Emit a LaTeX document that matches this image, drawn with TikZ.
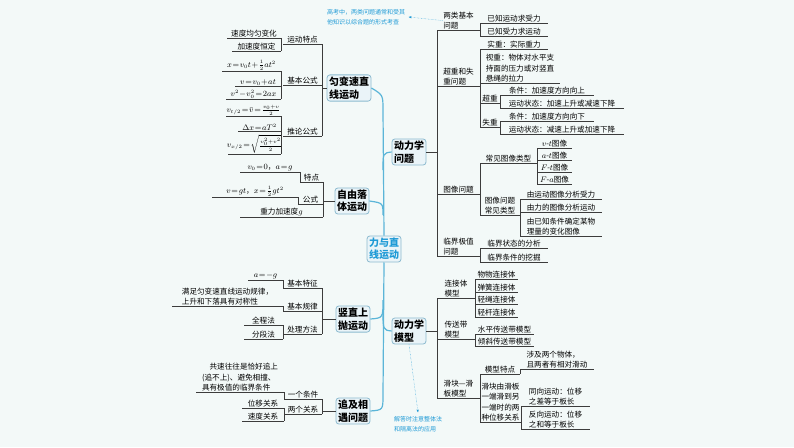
\documentclass[tikz,border=0pt]{standalone}
\usepackage{amsmath}
\usepackage[no-math]{fontspec}
\setmainfont{Noto Sans CJK SC}
\usetikzlibrary{arrows.meta}
\definecolor{bgc}{HTML}{F3F9F8}
\definecolor{linec}{HTML}{3C3C3C}
\definecolor{boxc}{HTML}{EAF4F8}
\definecolor{boxb}{HTML}{8DBBD0}
\definecolor{spinec}{HTML}{5BB5D8}
\definecolor{notec}{HTML}{1E9AD6}
\medmuskip=1mu
\thickmuskip=1.5mu
\tikzset{
  leaf/.style={inner sep=0.6pt, font=\fontsize{7.6}{10.3}\selectfont, align=left},
  topic/.style={draw=boxb, fill=boxc, rounded corners=3pt, line width=0.8pt, align=left, inner sep=2pt, font=\fontsize{10}{12.5}\selectfont\bfseries},
  note/.style={text=notec, align=left, font=\fontsize{6}{10.5}\selectfont},
  tree/.style={draw=linec, line width=0.6pt},
  spine/.style={draw=spinec, line width=1.2pt}
}
% leaf text above an underline
\newcommand{\lf}[5]{\node[leaf, anchor=south] (#1) at ({(#2+#3)/2},#4) {#5};
  \draw[tree] (#2,#4) -- (#3,#4);}
\newcommand{\brk}[3]{\draw[tree, rounded corners=2pt] (#1,#2) -- (#1,#3);}
\begin{document}
\begin{tikzpicture}[x=1pt,y=-1pt]
\fill[bgc] (0,0) rectangle (794,447);
\useasboundingbox (0,0) rectangle (794,447);

% main topics
\node[topic, text=notec] (root) at (384,249) {力与直\\线运动};
\node[topic] (uniform) at (349,88) {匀变速直\\线运动};
\node[topic] (freefall) at (352,201) {自由落\\体运动};
\node[topic] (upthrow) at (353,319) {竖直上\\抛运动};
\node[topic] (chase) at (353,411) {追及相\\遇问题};
\node[topic] (dynq) at (409,152) {动力学\\问题};
\node[topic] (dynm) at (409,331) {动力学\\模型};

% spine
\draw[spine] (root.north) -- (383,110) .. controls (383,95) .. (uniform.east);
\draw[spine] (383,215) .. controls (383,203) .. (freefall.east);
\draw[spine] (root.south) -- (383,395) .. controls (383,410) .. (chase.east);
\draw[spine] (383,300) .. controls (383,318) .. (upthrow.east);
\draw[spine] (383,170) .. controls (383,153) .. (dynq.west);
\draw[spine] (383,310) .. controls (383,330) .. (dynm.west);

% ---- uniform motion
\lf{feat}{283}{322}{44}{运动特点}
\lf{basic}{283}{322}{85}{基本公式}
\lf{infer}{283}{322}{136}{推论公式}
\brk{322}{44}{136}
\draw[tree] (322,88) -- (uniform.west);
\lf{f1}{227}{281}{38}{速度均匀变化}
\lf{f2}{232}{281}{51}{加速度恒定}
\brk{281}{38}{51}
\lf{b1}{222}{281}{71}{$x=v_0t+\tfrac12at^2$}
\lf{b2}{235}{281}{86}{$v=v_0+at$}
\lf{b3}{226}{281}{99}{$v^2-v_0^2=2ax$}
\brk{281}{71}{99}
\lf{i1}{226}{281}{116}{$v_{t/2}=\bar v=\tfrac{v_0+v}{2}$}
\lf{i2}{238}{281}{131}{$\Delta x=aT^2$}
\lf{i3}{228}{281}{154}{$v_{x/2}=\sqrt{\tfrac{v_0^2+v^2}{2}}$}
\brk{281}{116}{154}

% ---- free fall
\lf{ffeat}{300}{323}{182}{特点}
\lf{fform}{298}{323}{204}{公式}
\lf{fg}{240}{323}{217}{重力加速度$g$}
\brk{323}{182}{217}
\draw[tree] (323,201) -- (freefall.west);
\lf{ff1}{240}{300}{172}{$v_0=0$，$a=g$}
\brk{300}{172}{182}
\lf{ff2}{212}{298}{197}{$v=gt$，$x=\tfrac12gt^2$}
\brk{298}{197}{204}

% ---- vertical upward throw
\lf{ufeat}{283}{322}{288}{基本特征}
\lf{ulaw}{283}{322}{311}{基本规律}
\lf{umeth}{283}{322}{334}{处理方法}
\brk{322}{288}{334}
\draw[tree] (322,319) -- (upthrow.west);
\lf{u1}{248}{283}{280}{$a=-g$}
\brk{283}{280}{288}
\lf{u2}{172}{283}{306}{满足匀变速直线运动规律，\\上升和下落具有对称性}
\brk{283}{306}{311}
\lf{u3}{244}{283}{325}{全程法}
\lf{u4}{244}{283}{339}{分段法}
\brk{283}{325}{339}

% ---- chase
\lf{ccond}{284}{322}{399}{一个条件}
\lf{crel}{284}{322}{414}{两个关系}
\brk{322}{399}{414}
\draw[tree] (322,411) -- (chase.west);
\lf{c1}{196}{284}{392}{\hspace*{1em}共速往往是恰好追上\\(追不上)、避免相撞、\\具有极值的临界条件}
\brk{284}{392}{399}
\lf{c2}{242}{284}{408}{位移关系}
\lf{c3}{242}{284}{421}{速度关系}
\brk{284}{408}{421}

% ---- dynamics problems
\lf{two}{437}{480}{30}{两类基本\\问题}
\lf{over}{437}{480}{86}{超重和失\\重问题}
\lf{graph}{437}{480}{194}{图像问题}
\lf{crit}{437}{480}{256}{临界极值\\问题}
\brk{437}{30}{256}
\draw[tree] (dynq.east) -- (437,152);
\lf{t1}{480}{548}{23}{已知运动求受力}
\lf{t2}{480}{548}{36}{已知受力求运动}
\brk{480}{23}{36}
\lf{o1}{480}{548}{49}{实重：实际重力}
\lf{o2}{480}{560}{83}{视重：物体对水平支\\持面的压力或对竖直\\悬绳的拉力}
\lf{o3}{480}{500}{103}{超重}
\lf{o4}{480}{500}{127}{失重}
\brk{480}{49}{127}
\lf{o31}{500}{594}{95}{条件：加速度方向向上}
\lf{o32}{500}{624}{108}{运动状态：加速上升或减速下降}
\brk{500}{95}{108}
\lf{o41}{500}{594}{121}{条件：加速度方向向下}
\lf{o42}{500}{624}{134}{运动状态：减速上升或加速下降}
\brk{500}{121}{134}
\lf{g1}{480}{537}{163}{常见图像类型}
\lf{g2}{480}{520}{215}{图像问题\\常见类型}
\brk{480}{163}{215}
\lf{g11}{537}{572}{148}{$v$-$t$图像}
\lf{g12}{537}{572}{160}{$a$-$t$图像}
\lf{g13}{537}{572}{172}{$F$-$t$图像}
\lf{g14}{537}{572}{184}{$F$-$a$图像}
\brk{537}{148}{184}
\lf{g21}{520}{602}{199}{由运动图像分析受力}
\lf{g22}{520}{602}{212}{由力的图像分析运动}
\lf{g23}{520}{602}{236}{由已知条件确定某物\\理量的变化图像}
\brk{520}{199}{236}
\lf{k1}{480}{548}{248}{临界状态的分析}
\lf{k2}{480}{548}{262}{临界条件的挖掘}
\brk{480}{248}{262}

% ---- dynamics models
\lf{conn}{437}{475}{298}{连接体\\模型}
\lf{belt}{437}{475}{339}{传送带\\模型}
\lf{slide}{437}{480}{398}{滑块—滑\\板模型}
\brk{437}{298}{398}
\draw[tree] (dynm.east) -- (437,331);
\lf{m1}{475}{518}{279}{物物连接体}
\lf{m2}{475}{518}{292}{弹簧连接体}
\lf{m3}{475}{518}{304}{轻绳连接体}
\lf{m4}{475}{518}{317}{轻杆连接体}
\brk{475}{279}{317}
\lf{bt1}{475}{534}{334}{水平传送带模型}
\lf{bt2}{475}{534}{346}{倾斜传送带模型}
\brk{475}{334}{346}
\lf{s1}{480}{520}{374}{模型特点}
\lf{s2}{480}{521}{422}{滑块由滑板\\一端滑到另\\一端时的两\\种位移关系}
\brk{480}{374}{422}
\lf{s11}{520}{594}{369}{涉及两个物体，\\且两者有相对滑动}
\brk{520}{369}{374}
\lf{s21}{521}{590}{406}{同向运动：位移\\之差等于板长}
\lf{s22}{521}{590}{429}{反向运动：位移\\之和等于板长}
\brk{521}{406}{429}

% notes
\node[note] (ntop) at (366,17) {高考中，两类问题通常和受其\\他知识以综合题的形式考查};
\draw[notec, densely dotted, -{Stealth[length=3pt]}] (two.west) -- (ntop.east);
\node[note] (nbot) at (418,424) {解答时注意整体法\\和隔离法的应用};
\draw[notec, densely dotted, -{Stealth[length=3pt]}] (dynm.south) -- (nbot.north);
\end{tikzpicture}
\end{document}
